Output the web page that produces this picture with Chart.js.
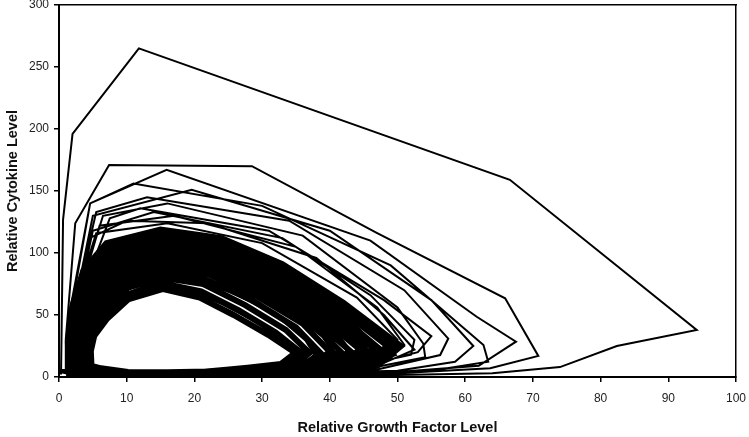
<!DOCTYPE html>
<html>
<head>
<meta charset="utf-8">
<script src="https://cdn.jsdelivr.net/npm/chart.js@4.4.1/dist/chart.umd.min.js"></script>
<style>
  html, body { margin: 0; padding: 0; background: #fff; }
  #wrap { width: 749px; height: 437px; }
</style>
</head>
<body>
<div id="wrap"><canvas id="phaseChart"></canvas></div>
<script>
// x = relative growth factor level, y = relative cytokine level
// early wide loops of the trajectory
const outerLoops = [
    [0.3, 2], [0.6, 127], [2.0, 196], [11.8, 265], [66.6, 159], [94.2, 38], [82.4, 25], [74.0, 8], [64.0, 3], [48, 1.5], [30, 0.8], [14, 0.5], [5, 0.5], [1.2, 1],
    [1.0, 30], [2.4, 124], [7.4, 171], [28.5, 170], [47, 116], [65.9, 63.5], [70.8, 17], [63.7, 7], [50, 3], [32, 1.5], [15, 1], [5, 1], [1.6, 2],
    [1.5, 50], [4.6, 140], [15.9, 167], [46, 110], [61.7, 48.6], [67.5, 28.5], [62, 9], [50, 4], [34, 2], [18, 1.2], [6, 1.2], [2, 3],
    [2.0, 60], [4.6, 140], [11, 156], [30, 138], [49, 90], [62.7, 25.8], [63.4, 12.3], [55, 5], [40, 2.5], [22, 1.5], [8, 1.5], [2.4, 4],
    [2.2, 55], [5, 130], [19.6, 151], [40, 118], [55, 62], [61.2, 25], [58.5, 12.3], [50, 5], [35, 3], [18, 2], [7, 2], [2.6, 4],
    [2.4, 60], [5.5, 133], [13, 145], [34, 126], [51, 70], [57.5, 31], [56.3, 17.7], [47, 6], [32, 3.5], [16, 2.5], [6, 2.5], [2.8, 5],
    [2.6, 62], [6.5, 130], [16, 140], [36, 114], [50, 56], [53.8, 27], [54.1, 16], [45, 6], [30, 3.5], [15, 2.5], [6, 3], [2.8, 6],
    [2.8, 60], [7.5, 128], [12, 136], [31, 118], [48, 62], [55, 33], [53, 20], [44, 7], [29, 4], [14, 3], [5.5, 3], [2.6, 6],
    [2.6, 58], [5, 118], [14, 133], [33, 112], [46, 66], [52.5, 30], [52, 18], [42, 6], [28, 3.5], [14, 3], [5, 3], [2.4, 7],
    [2.4, 55], [6, 122], [17, 130], [35, 105], [47, 56], [51, 26], [48, 12], [40, 5], [26, 3], [12, 2.5], [4.5, 3], [2.2, 6],
    [2.0, 50], [4.5, 112], [10, 126], [22, 124], [38, 96], [48, 50], [52.5, 22], [47, 9], [38, 4], [24, 2.5], [10, 2], [4, 3], [2, 6],
    [1.8, 52], [5.5, 116], [16, 124], [30, 108], [44, 64], [50, 30], [49, 14], [40, 5], [26, 2.5], [12, 2], [4, 2.5], [1.6, 5]
];

// dense band of later loops settling onto the cycle (estimated)
const denseLoops = [
    [1.2, 3], [1.3, 28], [2.0, 58], [3.6, 86], [7, 108], [15, 119], [24, 112], [33, 91], [42, 60], [50.5, 25], [47, 9], [38, 3.5], [28, 1.5], [18, 1], [9, 1], [3.5, 1.5],
    [1.5, 4], [1.6, 28], [2.3, 57], [4, 84], [7.5, 105], [15, 116], [24, 109], [33, 89], [41.5, 58], [49.5, 23], [46, 9], [37, 3.5], [27, 2], [17, 1.2], [8.5, 1.2], [3.8, 2],
    [1.8, 4], [1.8, 27], [2.6, 56], [4.3, 82], [7.8, 102], [15, 112], [23.5, 106], [32.5, 86], [41, 57], [48.5, 25], [45, 9], [36, 4], [26, 2], [17, 1.5], [8.5, 1.5], [4, 2.5],
    [2.1, 5], [2.1, 27], [2.9, 55], [4.6, 80], [8, 99], [15, 109], [23.5, 102], [32, 83], [40, 56], [47.5, 22], [44, 8.5], [35.5, 4], [26, 2.2], [17, 1.8], [8.5, 1.8], [4.2, 3],
    [2.4, 5], [2.4, 27], [3.2, 54], [4.9, 78], [8.3, 96], [15, 105.5], [23, 99], [31.5, 80], [39.5, 53], [46.5, 23], [43, 9], [35, 4.5], [25.5, 2.5], [17, 2], [8.5, 2], [4.4, 3],
    [2.7, 5.5], [2.7, 26], [3.5, 52], [5.2, 75], [8.6, 92], [15, 102], [23, 96], [31, 77], [39, 51], [45.5, 21], [42, 9], [34, 5], [25, 2.8], [17, 2.2], [8.5, 2.2], [4.6, 3.5],
    [3.0, 6], [3.0, 26], [3.8, 51], [5.5, 73], [8.8, 89], [15, 98.5], [22.5, 93], [30.5, 75], [38.5, 49], [44.5, 22], [41, 9.5], [33.5, 5.5], [24.5, 3], [17, 2.5], [8.6, 2.5], [4.8, 4],
    [3.3, 6.5], [3.3, 25], [4.1, 49], [5.8, 70], [9.1, 86], [15, 95], [22.5, 89.5], [30, 72], [37.5, 47], [43, 21], [40, 9.5], [33, 5.5], [24.5, 3.2], [17, 2.8], [8.8, 2.8], [5, 4.5],
    [3.6, 7], [3.6, 25], [4.4, 47], [6.1, 67], [9.4, 82], [15, 91.5], [22, 86], [29.5, 69], [37, 45], [41.5, 21], [39, 10], [32, 6], [24, 3.5], [17, 3], [9, 3], [5.2, 5],
    [3.9, 7.5], [3.9, 24], [4.6, 45], [6.4, 64], [9.7, 79], [15.2, 88], [22, 83], [29, 66], [36, 43], [40, 20.5], [37.5, 10], [31, 6.5], [24, 3.7], [17, 3.2], [9.3, 3.3], [5.4, 5.5],
    [4.2, 8], [4.2, 24], [4.8, 43], [6.7, 61], [10, 76], [15.2, 84], [21.5, 79], [28.5, 62], [35, 40], [38.5, 20], [36.5, 10], [30.5, 7], [23.5, 4], [17, 3.4], [9.6, 3.6], [5.6, 6],
    [4.5, 8.5], [4.5, 23], [5.1, 40], [7, 58], [10.2, 72], [15.3, 80], [21.3, 75], [27.5, 58], [33.5, 38], [37, 19.5], [35, 10], [30, 7.5], [23, 4.3], [17, 3.6], [10, 3.8], [6, 6.5],
    [4.7, 9], [4.7, 22], [5.2, 37], [7.2, 53], [10.4, 67], [15.3, 75.5], [21, 69], [26.5, 54], [32, 36], [35.8, 19.5], [34, 10.5], [29, 8], [22, 4.5], [16, 3.8], [10.2, 4], [6.2, 7],
    [4.8, 9], [4.7, 21], [5.2, 33], [7.1, 47], [10.2, 62.5], [15.4, 71], [20.8, 64], [25.8, 50], [30.9, 34], [34.9, 19.5], [32.8, 10.5], [27.2, 7], [21, 4], [15, 3.4], [10.5, 3.8], [7.2, 5.5], [4.8, 9]
];

// loops of the same band sampled at other phases, so the vertices fall in between
const shiftedLoops = [
    [1.4, 10], [1.5, 42], [2.7, 72], [5.2, 96], [11, 112], [19.5, 114], [28.5, 100], [37.5, 74], [45.5, 43], [49.5, 18], [43, 6], [32, 2.5], [21, 1.3], [11, 1.1], [5, 1.3], [2, 3],
    [2.0, 10], [2.0, 41], [3.4, 70], [5.6, 92], [11, 106], [19.5, 108], [28, 95], [36.5, 71], [44, 40], [47.5, 17], [41.5, 6.5], [31, 3], [21, 1.8], [11, 1.6], [5, 1.8], [2.5, 4],
    [2.6, 10], [2.6, 40], [4, 68], [6.2, 87], [11.5, 100], [19.5, 101], [27.5, 89], [35.5, 66], [42.5, 37], [45.5, 17], [40, 7], [30, 3.5], [20.5, 2.2], [11, 2], [5.2, 2.5], [3, 4.5],
    [3.2, 10], [3.2, 38], [4.5, 64], [6.8, 82], [11.8, 93.5], [19.5, 94], [27, 83], [34.5, 62], [41, 35], [43.5, 17], [38.5, 7.5], [29.5, 4], [20, 2.8], [11.5, 2.6], [5.5, 3], [3.5, 5],
    [3.8, 10], [3.8, 37], [5, 60], [7.2, 77], [12, 86.5], [19.5, 87], [26.5, 76], [33.5, 57], [39, 33], [41, 17], [37, 8], [29, 4.5], [20, 3.2], [12, 3], [6, 3.4], [4, 5.5],
    [4.3, 11], [4.3, 35], [5.3, 55], [7.6, 71], [12.3, 79], [19, 79.5], [25.5, 69], [32, 51], [36.5, 30], [38, 17], [35, 8.5], [28, 5.5], [20, 3.8], [12.5, 3.5], [7, 4], [4.6, 6.5],
    [4.7, 12], [4.8, 33], [5.8, 50], [8.3, 64], [12.5, 71.5], [18.5, 71], [24, 60], [29.5, 44], [34, 27], [35.5, 16], [33, 9], [26, 6], [19, 4], [13, 3.6], [8, 4.2], [5.4, 7]
];

const xTicks = [0, 10, 20, 30, 40, 50, 60, 70, 80, 90, 100];
const yTicks = [0, 50, 100, 150, 200, 250, 300];

const toPoints = arr => arr.map(p => ({ x: p[0], y: p[1] }));

function lineSet(arr, width) {
    return {
        data: toPoints(arr),
        showLine: true,
        borderColor: '#000',
        borderWidth: width,
        pointRadius: 0,
        tension: 0
    };
}

// empty axes on top and right only to close the box around the plot
function frameAxis(position, min, max) {
    return {
        type: 'linear',
        position: position,
        min: min,
        max: max,
        grid: { display: false, drawTicks: false },
        ticks: { display: false },
        border: { display: true, color: '#000', width: 1.5 },
        afterFit: s => {
            if (s.isHorizontal()) { s.height = 0; } else { s.width = 0; }
            s.paddingLeft = 0; s.paddingRight = 0; s.paddingTop = 0; s.paddingBottom = 0;
        }
    };
}

const ctx = document.getElementById('phaseChart').getContext('2d');
new Chart(ctx, {
    type: 'scatter',
    data: {
        datasets: [
            lineSet(outerLoops, 2),
            lineSet(denseLoops, 6),
            lineSet(shiftedLoops, 4)
        ]
    },
    options: {
        responsive: true,
        maintainAspectRatio: false,
        animation: false,
        layout: { padding: { top: 5, right: 13, left: 0, bottom: 0 } },
        plugins: {
            legend: { display: false },
            tooltip: { enabled: false }
        },
        scales: {
            x: {
                type: 'linear',
                min: 0,
                max: 100,
                afterBuildTicks: s => { s.ticks = xTicks.map(v => ({ value: v })); },
                afterFit: s => { s.height = 60; s.paddingLeft = 0; s.paddingRight = 0; },
                grid: { drawOnChartArea: false, drawTicks: true, tickLength: 5, color: '#000', lineWidth: 1.5 },
                border: { color: '#000', width: 2 },
                ticks: { color: '#222', font: { family: 'Liberation Sans', size: 12 }, padding: 9, maxRotation: 0 },
                title: {
                    display: true,
                    text: 'Relative Growth Factor Level',
                    color: '#111',
                    font: { family: 'Liberation Sans', size: 14.5, weight: 'bold' },
                    padding: { top: 4, bottom: 0 }
                }
            },
            y: {
                type: 'linear',
                min: 0,
                max: 300,
                afterBuildTicks: s => { s.ticks = yTicks.map(v => ({ value: v })); },
                afterFit: s => { s.width = 59; s.paddingTop = 0; s.paddingBottom = 0; },
                grid: { drawOnChartArea: false, drawTicks: true, tickLength: 5, color: '#000', lineWidth: 1.5 },
                border: { color: '#000', width: 2 },
                ticks: { color: '#222', font: { family: 'Liberation Sans', size: 12 }, padding: 5 },
                title: {
                    display: true,
                    text: 'Relative Cytokine Level',
                    color: '#111',
                    font: { family: 'Liberation Sans', size: 14.5, weight: 'bold' },
                    padding: { top: 4, bottom: 1 }
                }
            },
            xTop: frameAxis('top', 0, 100),
            yRight: frameAxis('right', 0, 300)
        }
    }
});
</script>
</body>
</html>
